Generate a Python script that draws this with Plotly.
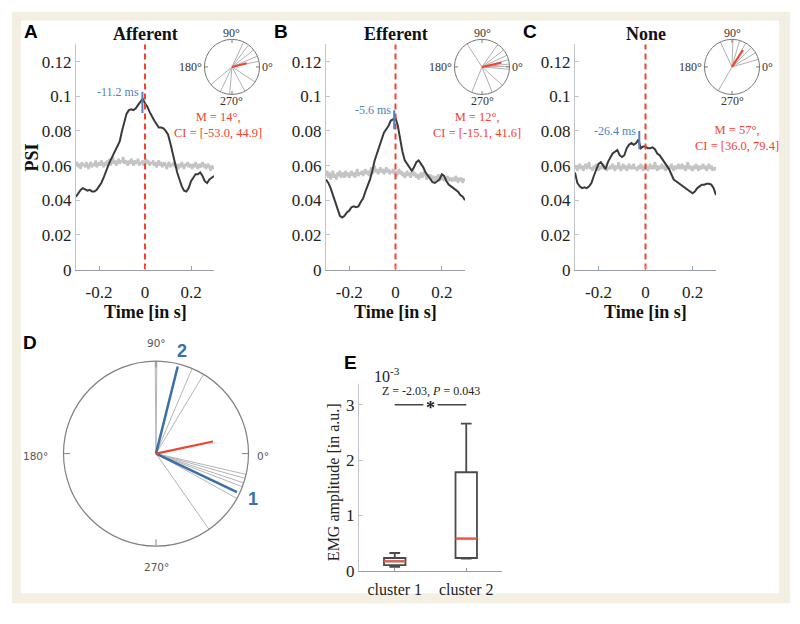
import math
import plotly.graph_objects as go

W, H = 800, 624

# ---------------- data ----------------
T = [round(-0.3 + 0.01 * i, 2) for i in range(61)]

PSI_AFF = [0.042, 0.044, 0.046, 0.047, 0.046, 0.0455, 0.046, 0.045, 0.045, 0.046,
           0.048, 0.050, 0.053, 0.057, 0.060, 0.063, 0.066, 0.069, 0.071, 0.074,
           0.080, 0.086, 0.090, 0.092, 0.0925, 0.092, 0.093, 0.095, 0.097, 0.0985,
           0.096, 0.094, 0.091, 0.088, 0.086, 0.084, 0.082, 0.082, 0.0815, 0.080,
           0.078, 0.073, 0.067, 0.062, 0.056, 0.052, 0.048, 0.0455, 0.045, 0.047,
           0.051, 0.053, 0.055, 0.055, 0.056, 0.054, 0.051, 0.050, 0.052, 0.053, 0.054]
PSI_EFF = [0.052, 0.050, 0.047, 0.043, 0.039, 0.035, 0.031, 0.030, 0.031, 0.033,
           0.034, 0.036, 0.0365, 0.036, 0.0365, 0.039, 0.041, 0.045, 0.048, 0.052,
           0.057, 0.063, 0.067, 0.071, 0.076, 0.079, 0.081, 0.083, 0.086, 0.087,
           0.0875, 0.083, 0.075, 0.068, 0.063, 0.061, 0.059, 0.057, 0.059, 0.062,
           0.063, 0.061, 0.059, 0.056, 0.054, 0.052, 0.0505, 0.050, 0.051, 0.052,
           0.055, 0.054, 0.051, 0.049, 0.048, 0.047, 0.046, 0.045, 0.043, 0.042, 0.040]
PSI_NONE = [0.056, 0.050, 0.048, 0.047, 0.0475, 0.047, 0.048, 0.050, 0.054, 0.058,
            0.061, 0.062, 0.060, 0.058, 0.062, 0.065, 0.067, 0.068, 0.069, 0.066,
            0.065, 0.066, 0.070, 0.072, 0.073, 0.072, 0.073, 0.075, 0.070, 0.071,
            0.071, 0.070, 0.070, 0.0705, 0.0695, 0.067, 0.066, 0.064, 0.062, 0.060,
            0.058, 0.055, 0.052, 0.051, 0.050, 0.049, 0.048, 0.047, 0.046, 0.045,
            0.044, 0.045, 0.047, 0.048, 0.049, 0.049, 0.0495, 0.0495, 0.049, 0.047, 0.043]

SURR_AFF = [0.060, 0.062, 0.059, 0.061, 0.058, 0.062, 0.060, 0.061, 0.059, 0.062,
            0.060, 0.058, 0.061, 0.062, 0.059, 0.061, 0.060, 0.063, 0.059, 0.061,
            0.062, 0.060, 0.063, 0.061, 0.059, 0.062, 0.060, 0.063, 0.061, 0.064,
            0.060, 0.062, 0.065, 0.061, 0.063, 0.060, 0.062, 0.064, 0.061, 0.063,
            0.062, 0.065, 0.061, 0.063, 0.062, 0.060, 0.063, 0.061, 0.064, 0.062,
            0.060, 0.063, 0.061, 0.062, 0.064, 0.060, 0.062, 0.061, 0.063, 0.060,
            0.062, 0.064, 0.061, 0.063, 0.060, 0.062, 0.061, 0.063, 0.060, 0.062,
            0.059, 0.061, 0.063, 0.060, 0.062, 0.059, 0.061, 0.062, 0.060, 0.058,
            0.061, 0.062, 0.059, 0.061, 0.060, 0.062, 0.059, 0.061, 0.060, 0.058,
            0.061, 0.059, 0.062, 0.060, 0.058, 0.061, 0.060, 0.062, 0.059, 0.061,
            0.060, 0.058, 0.061, 0.059, 0.062, 0.060, 0.058, 0.061, 0.059, 0.060,
            0.062, 0.059, 0.061, 0.058, 0.060, 0.061, 0.059, 0.057, 0.060, 0.059,
            0.058]
SURR_EFF = [0.054, 0.057, 0.053, 0.056, 0.052, 0.055, 0.057, 0.053, 0.055, 0.052,
            0.056, 0.054, 0.057, 0.053, 0.055, 0.056, 0.053, 0.057, 0.054, 0.056,
            0.053, 0.055, 0.057, 0.054, 0.056, 0.053, 0.055, 0.058, 0.054, 0.056,
            0.055, 0.057, 0.054, 0.056, 0.058, 0.055, 0.057, 0.054, 0.056, 0.059,
            0.055, 0.057, 0.060, 0.056, 0.058, 0.055, 0.057, 0.059, 0.056, 0.058,
            0.055, 0.057, 0.059, 0.056, 0.058, 0.055, 0.057, 0.056, 0.058, 0.055,
            0.057, 0.054, 0.056, 0.058, 0.055, 0.057, 0.054, 0.056, 0.053, 0.055,
            0.057, 0.054, 0.056, 0.053, 0.055, 0.058, 0.054, 0.056, 0.053, 0.055,
            0.052, 0.054, 0.056, 0.053, 0.055, 0.057, 0.054, 0.052, 0.055, 0.053,
            0.055, 0.052, 0.054, 0.053, 0.051, 0.054, 0.052, 0.055, 0.051, 0.053,
            0.052, 0.054, 0.051, 0.053, 0.052, 0.054, 0.051, 0.053, 0.052, 0.051,
            0.053, 0.051, 0.054, 0.052, 0.050, 0.053, 0.051, 0.053, 0.050, 0.052,
            0.052]
SURR_NONE = [0.058, 0.060, 0.057, 0.059, 0.061, 0.058, 0.060, 0.057, 0.059, 0.061,
             0.058, 0.060, 0.062, 0.058, 0.059, 0.057, 0.060, 0.058, 0.061, 0.059,
             0.057, 0.060, 0.058, 0.059, 0.061, 0.058, 0.060, 0.057, 0.059, 0.058,
             0.060, 0.058, 0.061, 0.059, 0.057, 0.060, 0.058, 0.062, 0.059, 0.057,
             0.059, 0.061, 0.058, 0.060, 0.057, 0.059, 0.061, 0.058, 0.060, 0.058,
             0.061, 0.058, 0.059, 0.057, 0.060, 0.058, 0.061, 0.059, 0.057, 0.060,
             0.058, 0.060, 0.057, 0.059, 0.061, 0.058, 0.060, 0.058, 0.062, 0.059,
             0.057, 0.060, 0.058, 0.059, 0.061, 0.058, 0.060, 0.057, 0.059, 0.058,
             0.060, 0.058, 0.061, 0.059, 0.057, 0.060, 0.058, 0.059, 0.061, 0.058,
             0.059, 0.061, 0.058, 0.060, 0.057, 0.059, 0.062, 0.058, 0.060, 0.058,
             0.057, 0.060, 0.058, 0.061, 0.059, 0.057, 0.060, 0.058, 0.059, 0.061,
             0.058, 0.060, 0.057, 0.059, 0.061, 0.058, 0.060, 0.057, 0.059, 0.058,
             0.059]

PANEL_TITLES = ["Afferent", "Efferent", "None"]
PANEL_LETTERS = ["A", "B", "C"]
EVENT_T = 0.0
Y_MAX = 0.13
Y_TICKS = [0, 0.02, 0.04, 0.06, 0.08, 0.1, 0.12]
Y_TICK_TEXT = ["0", "0.02", "0.04", "0.06", "0.08", "0.1", "0.12"]
X_TICKS = [-0.2, 0, 0.2]
X_TICK_TEXT = ["-0.2", "0", "0.2"]

PEAK_MS = [-11.2, -5.6, -26.4]
PEAK_LO = [0.0903, 0.081, 0.0695]
PEAK_HI = [0.1026, 0.092, 0.080]

MEAN_DEG = [14, 12, 57]
MEAN_LEN = [0.55, 0.72, 0.73]
CI_LO = ["-53.0", "-15.1", "36.0"]
CI_HI = ["44.9", "41.6", "79.4"]
INSET_ANGLES = [
    [65, 53, 38, 23, 12, -33, -62, -95, -115, -140],
    [123, 55, 38, 25, 15, 6, 1, -5, -42, -68, -112],
    [115, 88, 74, 60, 45, 31, 16, -120],
]

D_GRAY = [89.5, 90.5, 67, 59, -13, -15.5, -18.5, -21, -29, -55]
D_BLUE = [-25.5, 76]
D_BLUE_LABELS = ["1", "2"]
D_MEAN_DEG = 12
D_MEAN_LEN = 0.63

CLUSTERS = ["cluster 1", "cluster 2"]
CLUSTER_POS = [1, 2]
Q1 = [0.10, 0.23]
MEDIAN = [0.17, 0.58]
Q3 = [0.23, 1.78]
LOWER = [0.07, 0.22]
UPPER = [0.32, 2.66]
BOX_W = 0.3
SIG_Y = 3.0
E_YMAX = 3.38

# ---------------- helpers ----------------
def fx(p):
    return p / W

def fy(p):
    return 1 - p / H

SERIF = "Liberation Serif"
SANS = "Liberation Sans"
RED = "#f2432f"
BLUE = "#4f82c0"
AXCOL = "#9a9ea6"

fig = go.Figure()
annotations = []

def note(x, y, text, font, xref="paper", yref="paper", **kw):
    d = dict(x=x, y=y, xref=xref, yref=yref, text=text, showarrow=False,
             xanchor="center", yanchor="middle", font=font)
    d.update(kw)
    annotations.append(d)

# ---------------- panels A-C ----------------
X_DOMS = [(76, 214), (326, 465), (575, 716)]
Y_DOM = (45, 274)
SERIES = [PSI_AFF, PSI_EFF, PSI_NONE]
SURR = [SURR_AFF, SURR_EFF, SURR_NONE]
INSET_C = [(232, 68), (482, 68), (732, 68)]
INSET_R = 28
RED_TXT = [(218, 127), (477, 127), (737, 140)]

layout_axes = {}
for i in range(3):
    n = "" if i == 0 else str(i + 1)
    xa, ya = "x" + n, "y" + n
    g = SURR[i]
    tg = [-0.3 + 0.6 * k / (len(g) - 1) for k in range(len(g))]
    fig.add_trace(go.Scatter(x=tg, y=g, mode="lines", line=dict(color="#c4c4c4", width=2.5),
                             xaxis=xa, yaxis=ya, hoverinfo="skip"))
    fig.add_trace(go.Scatter(x=T, y=SERIES[i], mode="lines", line=dict(color="#3a3a3a", width=2),
                             xaxis=xa, yaxis=ya, hoverinfo="skip"))
    fig.add_trace(go.Scatter(x=[EVENT_T, EVENT_T], y=[0, Y_MAX], mode="lines",
                             line=dict(color=RED, width=2, dash="6px,4px"),
                             xaxis=xa, yaxis=ya, hoverinfo="skip"))
    pt = PEAK_MS[i] / 1000
    fig.add_trace(go.Scatter(x=[pt, pt], y=[PEAK_LO[i], PEAK_HI[i]], mode="lines",
                             line=dict(color=BLUE, width=2), xaxis=xa, yaxis=ya, hoverinfo="skip"))
    note(pt, PEAK_HI[i], f"{PEAK_MS[i]} ms", dict(family=SERIF, size=12, color=BLUE),
         xref=xa, yref=ya, xanchor="right", xshift=-1)

    layout_axes["xaxis" + n] = dict(
        domain=[fx(X_DOMS[i][0]), fx(X_DOMS[i][1])], anchor=ya, range=[-0.3, 0.3],
        tickmode="array", tickvals=X_TICKS, ticktext=X_TICK_TEXT, ticks="inside", ticklen=4,
        tickcolor=AXCOL, showline=True, linecolor=AXCOL, linewidth=1, showgrid=False,
        zeroline=False, ticklabelstandoff=7, tickfont=dict(family=SERIF, size=17, color="#222"))
    layout_axes["yaxis" + n] = dict(
        domain=[fy(Y_DOM[1]), fy(Y_DOM[0])], anchor=xa, range=[0, Y_MAX],
        tickmode="array", tickvals=Y_TICKS, ticktext=Y_TICK_TEXT, ticks="inside", ticklen=4,
        tickcolor="#c0c4cc", showline=True, linecolor="#c0c4cc", linewidth=1, showgrid=False,
        zeroline=False, tickfont=dict(family=SERIF, size=17, color="#222"))

    x0px = X_DOMS[i][0] + (0 + 0.3) / 0.6 * (X_DOMS[i][1] - X_DOMS[i][0])
    note(fx(x0px), fy(35), f"<b>{PANEL_TITLES[i]}</b>", dict(family=SERIF, size=18, color="#111"))
    note(fx(x0px), fy(317), "<b>Time [in s]</b>", dict(family=SERIF, size=18, color="#111"))
    note(fx(X_DOMS[i][0] - 45), fy(32), f"<b>{PANEL_LETTERS[i]}</b>",
         dict(family=SANS, size=19, color="#000"))
    rx, ry = RED_TXT[i]
    note(fx(rx), fy(ry), f"M = {MEAN_DEG[i]}°,<br>CI = [{CI_LO[i]}, {CI_HI[i]}]",
         dict(family=SERIF, size=12.5, color=RED), align="center")

    # inset polar
    pn = "polar" + n
    icx, icy = INSET_C[i]
    layout_axes[pn] = dict(
        domain=dict(x=[fx(icx - INSET_R), fx(icx + INSET_R)], y=[fy(icy + INSET_R), fy(icy - INSET_R)]),
        bgcolor="rgba(0,0,0,0)",
        radialaxis=dict(visible=False, range=[0, 1]),
        angularaxis=dict(showline=True, linecolor="#777", linewidth=1, showgrid=False,
                         tickmode="array", tickvals=[0, 90, 180, 270], ticks="inside", ticklen=3,
                         tickcolor="#777", showticklabels=False, rotation=0,
                         direction="counterclockwise"))
    rr, th = [], []
    for a in INSET_ANGLES[i]:
        rr += [0, 1, None]
        th += [a, a, None]
    fig.add_trace(go.Scatterpolar(r=rr, theta=th, mode="lines", line=dict(color="#b0b0b0", width=1),
                                  subplot=pn, hoverinfo="skip"))
    fig.add_trace(go.Scatterpolar(r=[0, MEAN_LEN[i]], theta=[MEAN_DEG[i], MEAN_DEG[i]], mode="lines",
                                  line=dict(color=RED, width=2), subplot=pn, hoverinfo="skip"))
    for lab, dx, dy in [("90°", 0, -34), ("270°", 0, 35), ("180°", -42, 0), ("0°", 35, 0)]:
        note(fx(icx + dx), fy(icy + dy), lab, dict(family=SERIF, size=12, color="#333"))

note(fx(32), fy(160), "<b>PSI</b>", dict(family=SERIF, size=18, color="#111"), textangle=-90)

# ---------------- panel D ----------------
DCX, DCY, DR = 156, 461, 94
layout_axes["polar4"] = dict(
    domain=dict(x=[fx(DCX - DR), fx(DCX + DR)], y=[fy(DCY + DR), fy(DCY - DR)]),
    bgcolor="rgba(0,0,0,0)",
    radialaxis=dict(visible=False, range=[0, 1]),
    angularaxis=dict(showline=True, linecolor="#808080", linewidth=1.2, showgrid=False,
                     tickmode="array", tickvals=[0, 90, 180, 270], ticks="inside", ticklen=6,
                     tickcolor="#808080", showticklabels=False, rotation=0,
                     direction="counterclockwise"))
rr, th = [], []
for a in D_GRAY:
    rr += [0, 1, None]
    th += [a, a, None]
fig.add_trace(go.Scatterpolar(r=rr, theta=th, mode="lines", line=dict(color="#b4b4b4", width=1),
                              subplot="polar4", hoverinfo="skip"))
rr, th = [], []
for a in D_BLUE:
    rr += [0, 0.97, None]
    th += [a, a, None]
fig.add_trace(go.Scatterpolar(r=rr, theta=th, mode="lines", line=dict(color="#3b6fa8", width=2.5),
                              subplot="polar4", hoverinfo="skip"))
fig.add_trace(go.Scatterpolar(r=[0, D_MEAN_LEN], theta=[D_MEAN_DEG, D_MEAN_DEG], mode="lines",
                              line=dict(color=RED, width=2.2), subplot="polar4", hoverinfo="skip"))
for a, lab in zip(D_BLUE, D_BLUE_LABELS):
    lx = DCX + 1.14 * DR * math.cos(math.radians(a))
    ly = DCY - 1.14 * DR * math.sin(math.radians(a))
    note(fx(lx), fy(ly), f"<b>{lab}</b>", dict(family=SANS, size=18, color="#3b6fa8"))
for lab, x, y in [("90°", 156, 349), ("180°", 35, 463), ("0°", 263, 463), ("270°", 156, 576)]:
    note(fx(x), fy(y), lab, dict(family="DejaVu Sans", size=10.5, color="#555"))
note(fx(30), fy(348), "<b>D</b>", dict(family=SANS, size=19, color="#000"))

# ---------------- panel E ----------------
fig.add_trace(go.Box(x=CLUSTER_POS, q1=Q1, median=MEDIAN, q3=Q3, lowerfence=LOWER, upperfence=UPPER,
                     width=BOX_W, whiskerwidth=0.5, line=dict(color="#4a4a4a", width=1.8),
                     fillcolor="white", xaxis="x4", yaxis="y4", boxpoints=False, hoverinfo="skip"))
mx, my = [], []
for p, m in zip(CLUSTER_POS, MEDIAN):
    mx += [p - BOX_W / 2, p + BOX_W / 2, None]
    my += [m, m, None]
fig.add_trace(go.Scatter(x=mx, y=my, mode="lines", line=dict(color="#f25a45", width=2),
                         xaxis="x4", yaxis="y4", hoverinfo="skip"))
fig.add_trace(go.Scatter(x=[CLUSTER_POS[0], 1.4, None, 1.6, CLUSTER_POS[1]],
                         y=[SIG_Y, SIG_Y, None, SIG_Y, SIG_Y], mode="lines",
                         line=dict(color="#444", width=1.5), xaxis="x4", yaxis="y4", hoverinfo="skip"))
note(1.5, SIG_Y, "<b>*</b>", dict(family=SERIF, size=18, color="#222"), xref="x4", yref="y4", yshift=-3)
note(1.5, SIG_Y, "Z = -2.03, <i>P</i> = 0.043", dict(family=SERIF, size=12, color="#222"),
     xref="x4", yref="y4", yshift=14)

layout_axes["xaxis4"] = dict(
    domain=[fx(359), fx(502)], anchor="y4", range=[0.5, 2.5], tickmode="array",
    tickvals=CLUSTER_POS, ticktext=CLUSTERS, ticks="inside", ticklen=3, tickcolor=AXCOL,
    showline=True, linecolor=AXCOL, linewidth=1, showgrid=False, zeroline=False,
    ticklabelstandoff=4, tickfont=dict(family=SERIF, size=16, color="#222"))
layout_axes["yaxis4"] = dict(
    domain=[fy(580), fy(390)], anchor="x4", range=[0, E_YMAX], tickmode="array",
    tickvals=[0, 1, 2, 3], ticktext=["0", "1", "2", "3"], ticks="inside", ticklen=4,
    tickcolor="#c0c4cc", showline=True, linecolor="#c0c4cc", linewidth=1, showgrid=False,
    zeroline=False, tickfont=dict(family=SERIF, size=17, color="#222"))
note(fx(334), fy(490), "EMG amplitude [in a.u.]", dict(family=SERIF, size=16, color="#222"),
     textangle=-90)
note(fx(372), fy(381), "10<sup>-3</sup>", dict(family=SERIF, size=16, color="#222"), xanchor="left")
note(fx(350), fy(368), "<b>E</b>", dict(family=SANS, size=19, color="#000"))

# ---------------- layout ----------------
shapes = [
    dict(type="rect", xref="paper", yref="paper", x0=fx(12), x1=fx(790), y0=fy(613), y1=fy(12),
         fillcolor="#f3f0e3", line=dict(width=0), layer="below"),
    dict(type="rect", xref="paper", yref="paper", x0=fx(21), x1=fx(779), y0=fy(603), y1=fy(21),
         fillcolor="white", line=dict(width=0), layer="below"),
]

fig.update_layout(
    width=W, height=H, margin=dict(l=0, r=0, t=0, b=0),
    paper_bgcolor="white", plot_bgcolor="rgba(0,0,0,0)",
    showlegend=False, shapes=shapes, annotations=annotations, **layout_axes)

fig.write_html("out.html", config={"displayModeBar": False},
               post_script="document.body.style.margin='0';")
